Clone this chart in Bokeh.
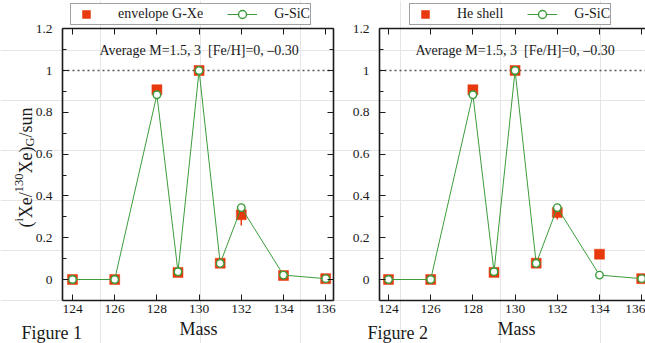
import math
from bokeh.plotting import figure
from bokeh.models import (LinearAxis, FixedTicker, NumeralTickFormatter, Range1d,
                          Label, Legend, LegendItem)
from bokeh.embed import file_html
from bokeh.resources import INLINE

# ---------------- data ----------------
mass = [124, 126, 128, 129, 130, 131, 132, 134, 136]
envelope_gxe = [0.0, 0.0, 0.908, 0.034, 1.0, 0.078, 0.31, 0.019, 0.004]
he_shell = [0.0, 0.0, 0.908, 0.034, 1.0, 0.078, 0.32, 0.121, 0.004]
g_sic = [0.0, 0.0, 0.884, 0.037, 1.0, 0.077, 0.344, 0.021, 0.004]
err_mass = [132]
envelope_err = [0.052]
he_shell_err = [0.033]
x_ticks = [124, 126, 128, 130, 132, 134, 136]
y_ticks = [0, 0.2, 0.4, 0.6, 0.8, 1.0, 1.2]
y_minor = [-0.1, 0.1, 0.3, 0.5, 0.7, 0.9, 1.1]
solar_level = 1.0
subtitle = "Average M=1.5, 3\u00a0\u00a0[Fe/H]=0, \u20130.30"

FONT = "Liberation Serif"
RED = "#e8380d"
GREEN = "#3c9c3c"
INK = "#1a1a1a"
W, H = 645, 343

# page geometry of the two panels (pixels) -> data ranges
PX_X = 21.1          # pixels per mass unit
PX_Y = 209.0         # pixels per ratio unit
ZERO_Y = 279.0       # page y of ratio 0
Y_LO, Y_HI = -0.1, 1.2


def x_map(px_of_124):
    return (124 - px_of_124 / PX_X, 124 + (W - px_of_124) / PX_X)


p = figure(width=W, height=H, min_border=0,
           x_range=Range1d(0, W), y_range=Range1d(H, 0),
           x_axis_location=None, y_axis_location=None,
           output_backend="svg", toolbar_location=None,
           background_fill_color="white", border_fill_color="white")
p.outline_line_color = None

p.extra_y_ranges = {"y": Range1d(-(H - ZERO_Y) / PX_Y, ZERO_Y / PX_Y)}
p.extra_x_ranges = {"x1": Range1d(*x_map(72)), "x2": Range1d(*x_map(388))}


def axis(side, xr, loc, bounds, ticks, minor, labels, standoff):
    ax = LinearAxis(x_range_name=xr, y_range_name="y", fixed_location=loc, bounds=bounds,
                    ticker=FixedTicker(ticks=ticks, minor_ticks=minor))
    ax.axis_line_color = INK
    ax.axis_line_width = 1.6
    ax.major_tick_in = 6
    ax.major_tick_out = 0
    ax.minor_tick_in = 4
    ax.minor_tick_out = 0
    ax.major_tick_line_color = INK
    ax.minor_tick_line_color = INK if minor else None
    ax.major_label_text_font = FONT
    ax.major_label_text_font_size = "13.5px"
    ax.major_label_standoff = standoff
    ax.major_label_text_color = INK if labels else None
    if side in ("left", "right"):
        ax.formatter = NumeralTickFormatter(format="0.[0]")
    p.add_layout(ax, side)


def panel(xr, x_lo, x_hi, model_vals, model_err, model_label, legend_x, right_axis):
    axis("below", xr, Y_LO, (x_lo, x_hi), x_ticks, [], True, 5)
    axis("above", xr, Y_HI, (x_lo, x_hi), x_ticks, [], False, 0)
    axis("left", xr, x_lo, (Y_LO, Y_HI), y_ticks, y_minor, True, 10)
    if right_axis:
        axis("right", xr, x_hi, (Y_LO, Y_HI), y_ticks, y_minor, False, 0)

    kw = dict(x_range_name=xr, y_range_name="y")
    p.segment(x0=[x_lo], y0=[solar_level], x1=[x_hi], y1=[solar_level],
              line_color="#555555", line_dash="2 3", line_width=1.3, **kw)

    lo = [model_vals[mass.index(m)] - e for m, e in zip(err_mass, model_err)]
    hi = [model_vals[mass.index(m)] + e for m, e in zip(err_mass, model_err)]
    p.segment(x0=err_mass, y0=lo, x1=err_mass, y1=hi, line_color=RED, line_width=1.5, **kw)

    sq = p.scatter(mass, model_vals, marker="square", size=10, fill_color=RED,
                   line_color=RED, line_width=0.5, **kw)
    ln = p.line(mass, g_sic, line_color=GREEN, line_width=1, **kw)
    ci = p.scatter(mass, g_sic, marker="circle", size=7.5, fill_color="white",
                   line_color=GREEN, line_width=1.4, **kw)

    legend = Legend(items=[LegendItem(label=model_label, renderers=[sq]),
                           LegendItem(label="G-SiC", renderers=[ln, ci])],
                    location=(legend_x, H - 25), orientation="horizontal",
                    glyph_width=30, glyph_height=20, label_height=20,
                    padding=0, margin=0, spacing=24, label_standoff=17,
                    label_text_font=FONT, label_text_font_size="14px",
                    label_text_color=INK,
                    border_line_color="#444444", border_line_width=1.6,
                    background_fill_color="white", background_fill_alpha=1)
    p.add_layout(legend)

    p.add_layout(Label(x=130, y=1.096, text=subtitle, text_align="center",
                       text_baseline="middle", text_font=FONT, text_font_size="14px",
                       text_color=INK, **kw))


panel("x1", 124 - 10 / PX_X, 124 + 261 / PX_X, envelope_gxe, envelope_err,
      "envelope G-Xe", 70, True)
panel("x2", 124 - 9 / PX_X, 124 + 264 / PX_X, he_shell, he_shell_err,
      "He shell", 409, False)

# composite y-axis title of the left panel (page coordinates)
big, small = 18.0, 12.5
pieces = [("(", big, 0, 0.333), ("i", small, -7, 0.278), ("Xe/", big, 0, 1.444),
          ("130", small, -7, 1.5), ("Xe)", big, 0, 1.499), ("G", small, 4, 0.722),
          ("/sun", big, 0, 1.667)]
total = sum(s * w for _, s, _, w in pieces)
ypos = 167 + total / 2
for txt, s, dx, w in pieces:
    p.add_layout(Label(x=25 + dx, y=ypos, text=txt, angle=math.pi / 2,
                       text_align="left", text_baseline="alphabetic",
                       text_font=FONT, text_font_size=f"{s}px", text_color=INK))
    ypos -= s * w

# axis titles and figure captions (page coordinates, top of text box)
for txt, x, y, align in [("Figure 1", 21, 322, "left"), ("Mass", 198, 318, "center"),
                         ("Figure 2", 367, 322, "left"), ("Mass", 516, 318, "center")]:
    p.add_layout(Label(x=x, y=y, text=txt, text_align=align,
                       text_baseline="top", text_font=FONT,
                       text_font_size="18px", text_color=INK))

open("out.html", "w").write(file_html(p, INLINE))
